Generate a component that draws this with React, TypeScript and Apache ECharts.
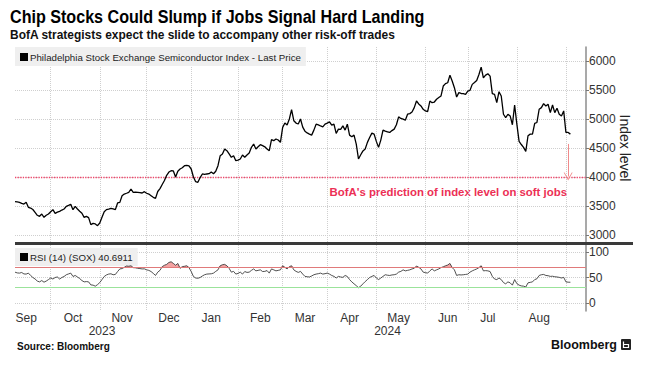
import React, { useEffect, useRef } from 'react';
import * as echarts from 'echarts';

// SOX daily closes, 2023-09-08 .. 2024-09-05 (trading days)
const price = [
  3574, 3570, 3563, 3545, 3534, 3563, 3477, 3465, 3440, 3391,
  3340, 3322, 3362, 3305, 3340, 3362, 3402, 3437, 3374, 3395,
  3408, 3430, 3448, 3494, 3510, 3528, 3437, 3494, 3448, 3410,
  3374, 3305, 3322, 3300, 3178, 3200, 3190, 3161, 3207, 3305,
  3400, 3437, 3448, 3460, 3450, 3437, 3552, 3563, 3678, 3706,
  3720, 3736, 3793, 3736, 3740, 3736, 3730, 3724, 3747, 3720,
  3706, 3678, 3650, 3632, 3750, 3800, 3870, 3940, 4030, 4085,
  4109, 4105, 4000, 4100, 4138, 4160, 4195, 4200, 4190, 4138,
  4000, 3919, 3908, 3990, 4052, 4045, 4052, 4057, 4086, 4057,
  4100, 4195, 4367, 4397, 4483, 4454, 4400, 4340, 4367, 4282,
  4290, 4310, 4379, 4340, 4380, 4414, 4511, 4569, 4483, 4520,
  4557, 4540, 4520, 4483, 4454, 4644, 4626, 4655, 4638, 4598,
  4856, 4930, 4897, 5000, 5161, 4971, 4930, 4914, 5000, 4860,
  4790, 4760, 4740, 4722, 4808, 4911, 4900, 4880, 4865, 4911,
  4930, 4950, 4894, 4911, 4751, 4825, 4820, 4882, 4808, 4911,
  4722, 4693, 4722, 4568, 4310, 4384, 4450, 4482, 4597, 4680,
  4756, 4739, 4614, 4511, 4636, 4808, 4790, 4779, 4768, 4800,
  4825, 4900, 5036, 5010, 4997, 4980, 5082, 5093, 5120, 5196,
  5310, 5260, 5225, 5167, 5139, 5127, 5310, 5281, 5293, 5340,
  5369, 5397, 5568, 5610, 5625, 5756, 5654, 5540, 5379, 5454,
  5440, 5437, 5425, 5482, 5494, 5597, 5630, 5665, 5768, 5894,
  5711, 5756, 5779, 5739, 5437, 5425, 5283, 5471, 5397, 5082,
  5025, 5082, 5053, 4900, 5242, 4911, 4614, 4560, 4511, 4443,
  4711, 4739, 4739, 4923, 4940, 5168, 5196, 5266, 5225, 5254,
  5110, 5242, 5110, 5185, 5082, 5053, 5139, 4768, 4768, 4739,
];

// RSI (14) of SOX, same days
const rsi = [
  60.5, 59, 58.6, 59.8, 57, 56.7, 58.6, 54, 50, 47.1,
  43, 41.4, 44, 40.8, 43, 45.9, 49, 47, 50, 51,
  47, 50, 52, 55.4, 57, 58.6, 52, 54, 51, 48,
  44, 41.4, 42, 41.4, 35.5, 35, 33, 36, 40, 46,
  52, 55, 56.7, 57.3, 55.4, 56, 61.7, 66.8, 67.5, 70,
  72.5, 72, 73, 69.4, 69, 68, 67.5, 66.8, 67, 65,
  64, 61.7, 58, 54, 60.5, 64, 71.3, 74, 75.7, 79.5,
  80.8, 77.6, 74, 77.6, 68, 71.3, 72, 73, 69.4, 61.7,
  52, 49, 48.5, 50, 53, 55.4, 56.7, 57, 57.3, 58.6,
  62, 65, 73, 75, 75.7, 73, 68, 60.5, 62, 56.7,
  58, 60.5, 56.7, 61.7, 60, 60.5, 64, 66.8, 63, 64,
  65, 61.7, 62, 63.6, 58.6, 66.8, 65, 63, 64, 65,
  73, 70, 66.8, 71.3, 73, 65, 62, 60, 62, 56.7,
  52.2, 51.5, 51, 53, 55.4, 56.7, 57.5, 58.6, 56.7, 57.5,
  58.6, 56.7, 54, 52.2, 49, 52.2, 51, 50.3, 54, 52,
  45.9, 41.4, 37.6, 34, 30, 33, 37.6, 42, 45.9, 50,
  52.2, 54, 49, 45.9, 49, 52.2, 55.4, 54.5, 54, 55,
  55.4, 56.7, 60.5, 62, 65, 63, 64, 65, 66.8, 68,
  72.5, 70, 66.8, 60.5, 59.5, 58.6, 63, 66.8, 63, 65,
  66.8, 69.4, 71, 73, 74.4, 77.6, 69.4, 65, 54, 55.4,
  55, 55.4, 56, 56.7, 60.5, 63, 65, 66.8, 69.4, 73,
  63, 63.5, 63, 61.7, 52.2, 47, 45.9, 49, 45.9, 40,
  37.6, 41.4, 39.5, 35, 45.9, 38, 35, 33.5, 33, 31.3,
  39.5, 40.5, 41.4, 45.9, 47.5, 54, 55.4, 56, 54, 53.5,
  52.2, 52.5, 51.5, 51, 50.3, 49, 50.3, 41.4, 40.8, 40.6911,
];

const monthNames = ['Jan', 'Feb', 'Mar', 'Apr', 'May', 'Jun', 'Jul', 'Aug', 'Sep', 'Oct', 'Nov', 'Dec'];
const holidays = ['2023-11-23', '2023-12-25', '2024-01-01', '2024-01-15', '2024-02-19', '2024-03-29', '2024-05-27', '2024-06-19', '2024-07-04', '2024-09-02'];
const startDate = '2023-09-08';
const extraDays = 7; // empty trading days after the last close
const softJobsLevel = 4000;
const arrowFrom = 4570;
const arrowTo = 4010;
const overbought = 70;
const oversold = 30;

const PRICE_NAME = 'Philadelphia Stock Exchange Semiconductor Index - Last Price';
const RSI_NAME = 'RSI (14) (SOX) 40.6911';
const TITLE = 'Chip Stocks Could Slump if Jobs Signal Hard Landing';
const SUBTITLE = 'BofA strategists expect the slide to accompany other risk-off trades';
const NOTE = "BofA's prediction of index level on soft jobs";

const FONT = "'Liberation Sans', Arial, sans-serif";

function buildCats(): string[] {
  const out: string[] = [];
  const hol = new Set(holidays);
  let t = Date.parse(startDate + 'T00:00:00Z');
  while (out.length < price.length + extraDays) {
    const d = new Date(t);
    const dow = d.getUTCDay();
    const s = d.toISOString().slice(0, 10);
    if (dow !== 0 && dow !== 6 && !hol.has(s)) out.push(s);
    t += 86400000;
  }
  return out;
}

export default function App() {
  const ref = useRef<HTMLDivElement>(null);
  useEffect(() => {
    if (!ref.current) return;
    const chart = echarts.init(ref.current, undefined, { renderer: 'svg' });
    const cats = buildCats();
    const last = price.length - 1;
    const monthKey = (s: string) => s.slice(0, 7);
    const labelIdx = new Set<number>();
    const splitIdx = new Set<number>();
    cats.forEach((c, i) => {
      if (i > 0 && monthKey(c) !== monthKey(cats[i - 1])) splitIdx.add(i);
      const day = +c.slice(8, 10);
      const prevSame = i > 0 && monthKey(cats[i - 1]) === monthKey(c) && +cats[i - 1].slice(8, 10) >= 15;
      if (day >= 15 && !prevSame && i <= last) labelIdx.add(i);
    });
    const years: Record<string, number[]> = {};
    cats.forEach((c, i) => {
      const y = c.slice(0, 4);
      (years[y] = years[y] || []).push(i);
    });
    const yearIdx = new Map<number, string>();
    Object.keys(years).forEach((y) => {
      const a = years[y];
      yearIdx.set(Math.floor((a[0] + a[a.length - 1]) / 2), y);
    });
    const arrowIdx = cats.indexOf('2024-09-04');

    const left = 15;
    const right = 74;
    const axisLabelStyle = { fontFamily: FONT, fontSize: 12, color: '#333', margin: 3 };
    const dotted = { show: true, lineStyle: { type: 'dotted' as const, color: '#cfcfcf', width: 1 } };

    const option: any = {
      animation: false,
      backgroundColor: '#fff',
      legend: [
        {
          data: [{ name: PRICE_NAME, itemStyle: { color: '#000' } }],
          left: 15,
          top: 47,
          padding: [5, 5, 4, 5],
          backgroundColor: '#efefef',
          icon: 'rect',
          itemWidth: 8,
          itemHeight: 8,
          itemGap: 2,
          selectedMode: false,
          textStyle: { fontFamily: FONT, fontSize: 9.7, color: '#222', padding: [0, 0, 0, -3] },
        },
        {
          data: [{ name: RSI_NAME, itemStyle: { color: '#000' } }],
          left: 15,
          top: 248,
          padding: [4, 5, 4, 5],
          backgroundColor: '#efefef',
          icon: 'rect',
          itemWidth: 8,
          itemHeight: 8,
          selectedMode: false,
          textStyle: { fontFamily: FONT, fontSize: 9.7, color: '#222', padding: [0, 0, 0, -3] },
        },
      ],
      grid: [
        { left, right, top: 47, height: 264 },
        { left, right, top: 61, height: 174 },
        { left, right, top: 252, height: 51 },
      ],
      xAxis: [
        {
          gridIndex: 0,
          type: 'category',
          data: cats,
          boundaryGap: false,
          axisLine: { show: false },
          axisTick: { show: false },
          axisLabel: {
            ...axisLabelStyle,
            margin: 1,
            interval: (i: number) => labelIdx.has(i),
            formatter: (v: string) => monthNames[+v.slice(5, 7) - 1],
          },
          splitLine: { ...dotted, interval: (i: number) => splitIdx.has(i) },
        },
        {
          gridIndex: 0,
          type: 'category',
          data: cats,
          boundaryGap: false,
          position: 'bottom',
          offset: 13,
          axisLine: { show: false },
          axisTick: { show: false },
          axisLabel: {
            ...axisLabelStyle,
            margin: 1,
            interval: (i: number) => yearIdx.has(i),
            formatter: (v: string) => v.slice(0, 4),
          },
          splitLine: { show: false },
        },
        { gridIndex: 1, type: 'category', data: cats, boundaryGap: false, show: false },
        { gridIndex: 2, type: 'category', data: cats, boundaryGap: false, show: false },
      ],
      yAxis: [
        {
          gridIndex: 0,
          type: 'value',
          position: 'right',
          min: 0,
          max: 1,
          axisLine: { show: true, lineStyle: { color: '#8c8c8c', width: 1.5 } },
          axisTick: { show: false },
          axisLabel: { show: false },
          splitLine: { show: false },
        },
        {
          gridIndex: 1,
          type: 'value',
          position: 'right',
          min: 3000,
          max: 6000,
          interval: 500,
          axisLine: { show: false },
          axisTick: { show: true, length: 3, lineStyle: { color: '#777' } },
          axisLabel: { ...axisLabelStyle, formatter: (v: number) => String(v) },
          splitLine: dotted,
          name: 'Index level',
          nameLocation: 'middle',
          nameRotate: -90,
          nameGap: 32,
          nameMoveOverlap: false,
          nameTextStyle: { fontFamily: FONT, fontSize: 14, color: '#222' },
        },
        {
          gridIndex: 2,
          type: 'value',
          position: 'right',
          min: 0,
          max: 100,
          interval: 50,
          axisLine: { show: false },
          axisTick: { show: true, length: 3, lineStyle: { color: '#777' } },
          axisLabel: { ...axisLabelStyle, formatter: (v: number) => String(v) },
          splitLine: dotted,
        },
      ],
      series: [
        {
          name: PRICE_NAME,
          type: 'line',
          xAxisIndex: 2,
          yAxisIndex: 1,
          data: price,
          symbol: 'none',
          lineStyle: { color: '#000', width: 1.3 },
          itemStyle: { color: '#000' },
          z: 5,
          markLine: {
            silent: true,
            symbol: 'none',
            label: { show: false },
            data: [
              { yAxis: softJobsLevel, lineStyle: { color: '#f0456a', type: 'dotted', width: 1.3 } },
              [
                { coord: [arrowIdx, arrowFrom], symbol: 'none' },
                {
                  coord: [arrowIdx, arrowTo],
                  symbol: 'path://M0 10L5 0L10 10L9 10L5 2L1 10Z',
                  symbolSize: [9, 8],
                },
              ],
            ],
            lineStyle: { color: '#f08a8a', type: 'solid', width: 1 },
          },
        },
        {
          name: 'obBase',
          type: 'line',
          xAxisIndex: 3,
          yAxisIndex: 2,
          stack: 'ob',
          data: rsi.map(() => overbought),
          symbol: 'none',
          lineStyle: { opacity: 0 },
          silent: true,
          z: 2,
        },
        {
          name: 'obFill',
          type: 'line',
          xAxisIndex: 3,
          yAxisIndex: 2,
          stack: 'ob',
          data: rsi.map((v) => Math.max(v - overbought, 0)),
          symbol: 'none',
          lineStyle: { opacity: 0 },
          areaStyle: { color: '#f4a3a3', opacity: 1 },
          silent: true,
          z: 2,
        },
        {
          name: RSI_NAME,
          type: 'line',
          xAxisIndex: 3,
          yAxisIndex: 2,
          data: rsi,
          symbol: 'none',
          lineStyle: { color: '#3c3c3c', width: 0.9 },
          itemStyle: { color: '#000' },
          z: 4,
          markLine: {
            silent: true,
            symbol: 'none',
            label: { show: false },
            data: [
              { yAxis: overbought, lineStyle: { color: '#e07a7a', type: 'solid', width: 1.2 } },
              { yAxis: oversold, lineStyle: { color: '#9be39b', type: 'solid', width: 1.2 } },
            ],
          },
        },
      ],
      graphic: [
        {
          type: 'text',
          x: 10,
          y: 17,
          scaleX: 0.895,
          style: {
            text: TITLE,
            fill: '#000',
            font: `bold 18px ${FONT}`,
            textVerticalAlign: 'middle',
          },
        },
        {
          type: 'text',
          x: 10,
          y: 35,
          scaleX: 0.92,
          style: {
            text: SUBTITLE,
            fill: '#111',
            font: `bold 13px ${FONT}`,
            textVerticalAlign: 'middle',
          },
        },
        {
          type: 'line',
          shape: { x1: 15, y1: 243.5, x2: 633, y2: 243.5 },
          style: { stroke: '#3a3a3a', lineWidth: 3 },
          z: 10,
        },
        {
          type: 'text',
          x: 567,
          y: 192,
          style: {
            text: NOTE,
            fill: '#ec2f55',
            font: `bold 11.4px ${FONT}`,
            textAlign: 'right',
            textVerticalAlign: 'middle',
          },
        },
        {
          type: 'text',
          x: 17,
          y: 346,
          style: {
            text: 'Source: Bloomberg',
            fill: '#111',
            font: `bold 10px ${FONT}`,
            textVerticalAlign: 'middle',
          },
        },
        {
          type: 'text',
          x: 617,
          y: 345,
          style: {
            text: 'Bloomberg',
            fill: '#111',
            font: `bold 12.5px ${FONT}`,
            textAlign: 'right',
            textVerticalAlign: 'middle',
          },
        },
        {
          type: 'rect',
          shape: { x: 621, y: 339, width: 10, height: 11, r: 1 },
          style: { fill: '#222' },
        },
        {
          type: 'polyline',
          shape: { points: [[623.5, 341.5], [623.5, 347.5], [628.5, 347.5], [628.5, 344.5], [623.5, 344.5]] },
          style: { stroke: '#fff', lineWidth: 1.2, fill: 'none' },
        },
      ],
    };
    chart.setOption(option);
    return () => chart.dispose();
  }, []);
  return <div ref={ref} style={{ position: 'fixed', left: 0, top: 0, width: 660, height: 373 }} />;
}
